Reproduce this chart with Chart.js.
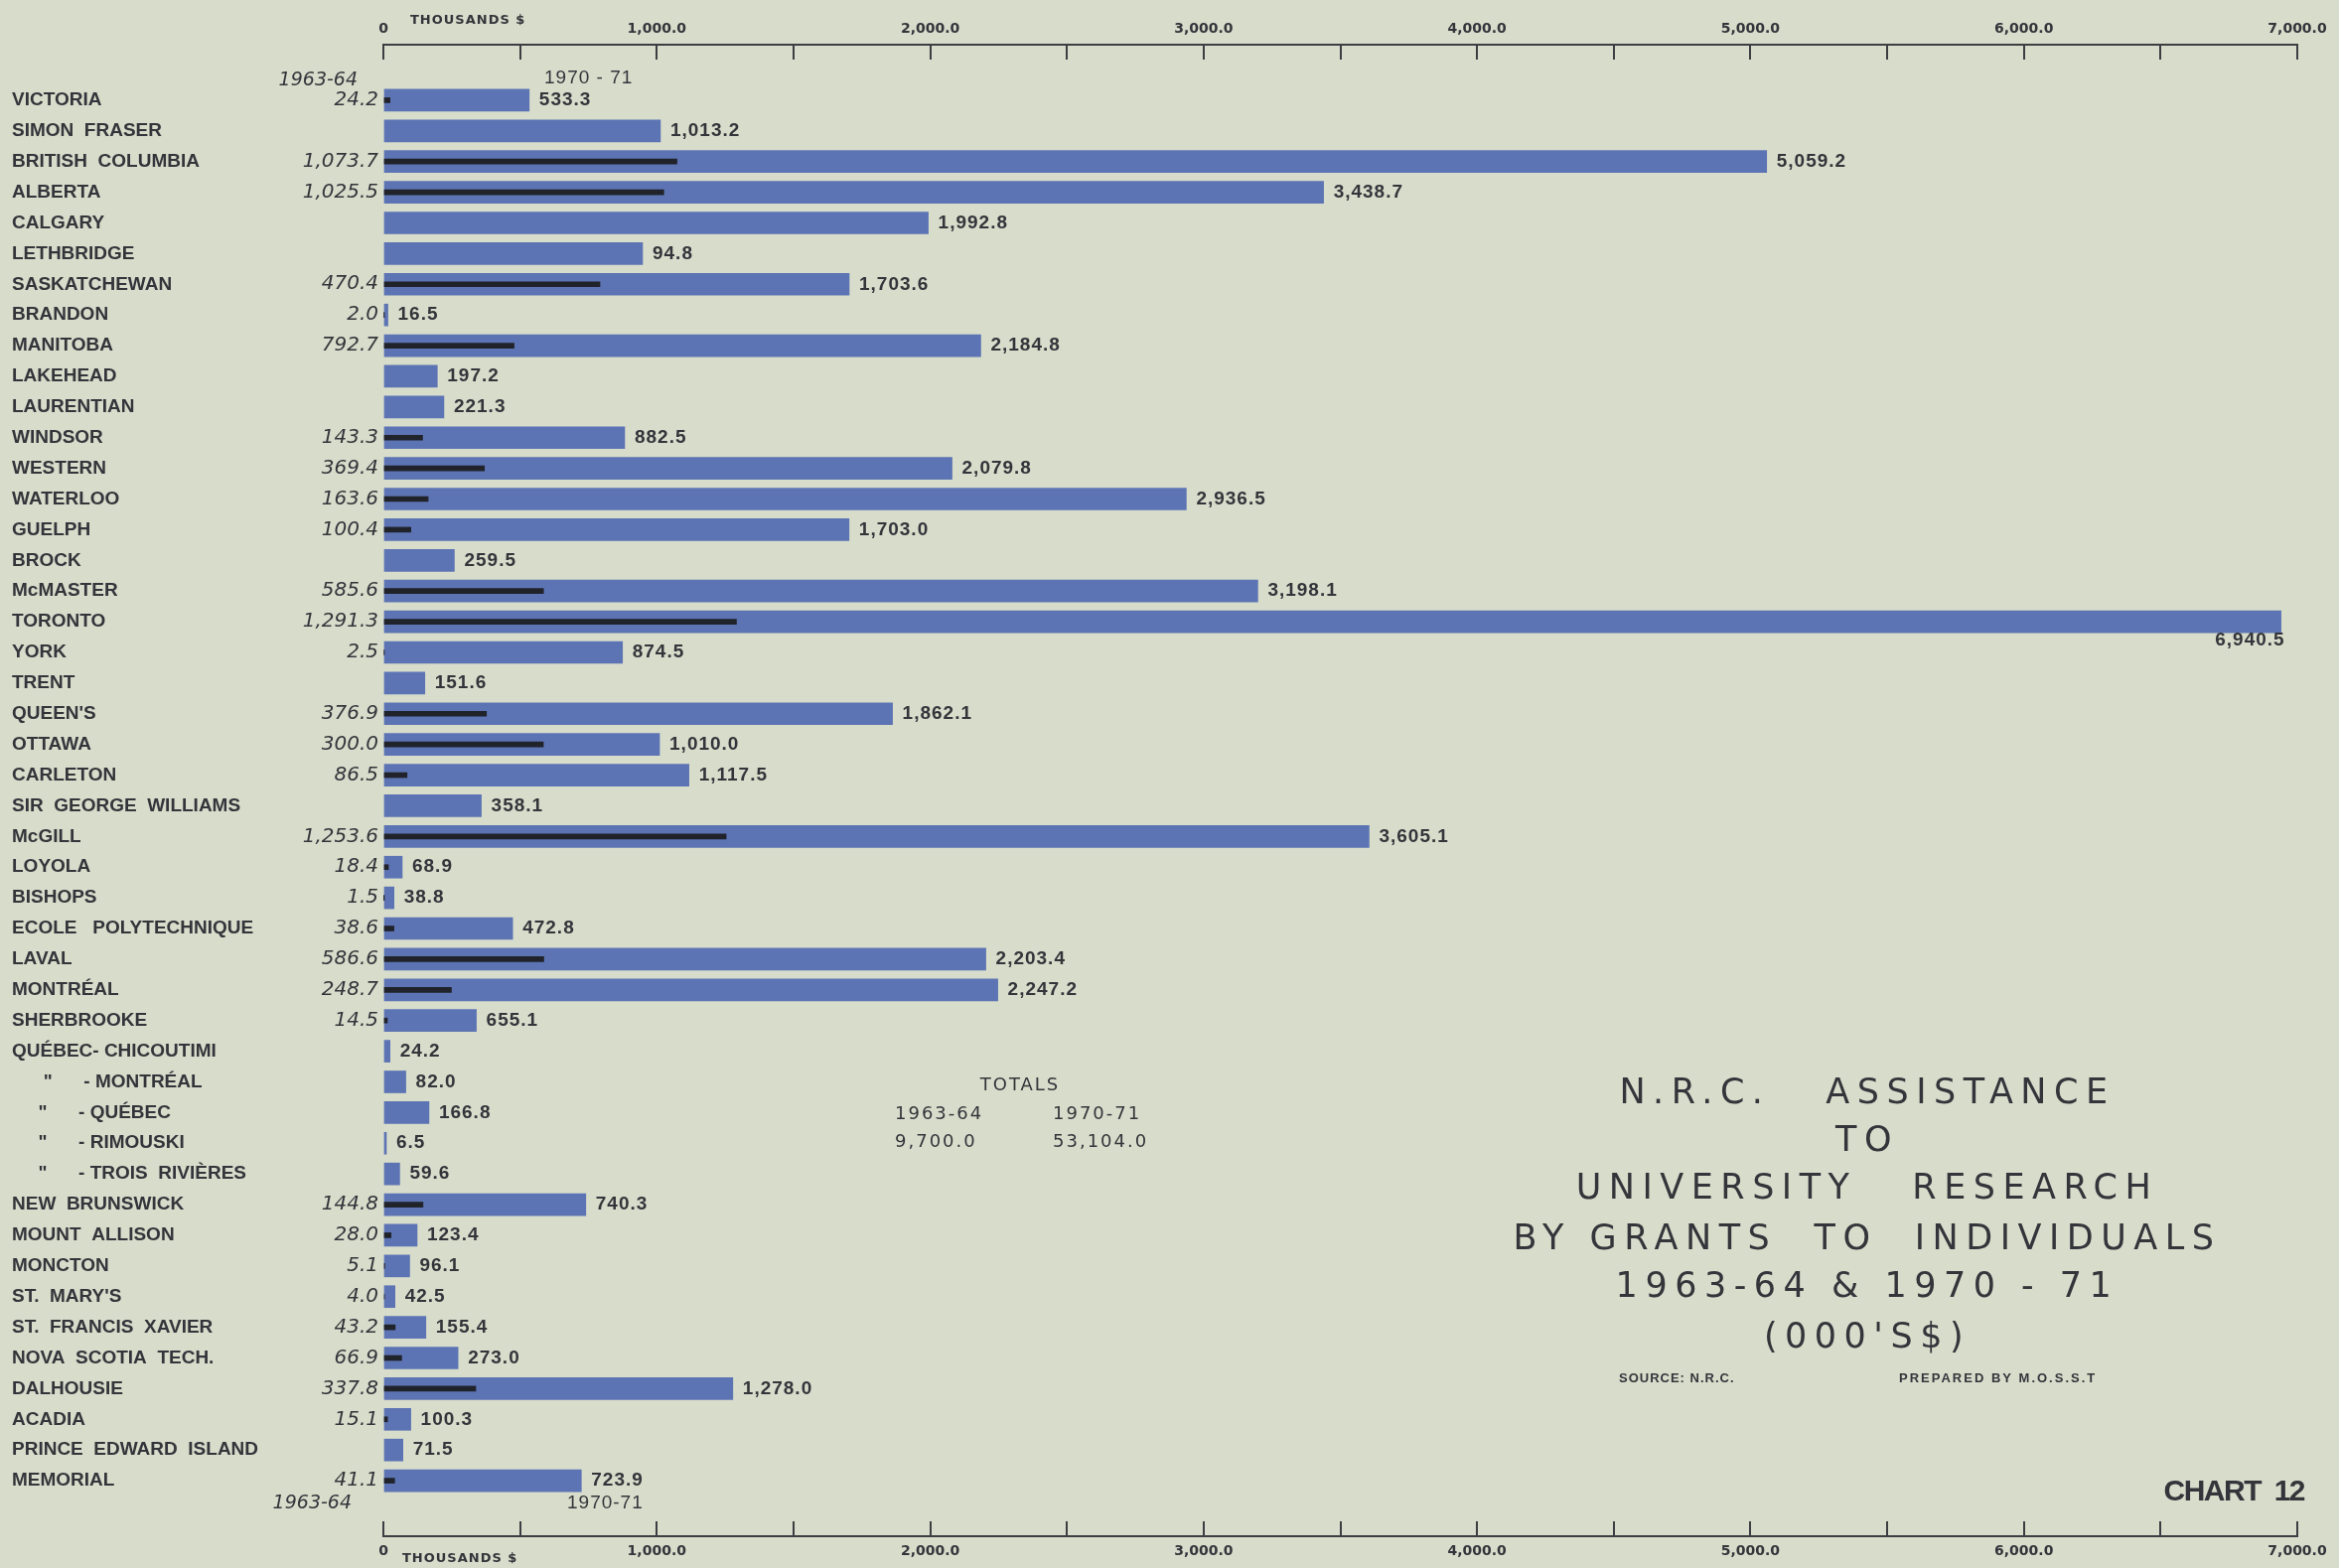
<!DOCTYPE html>
<html>
<head>
<meta charset="utf-8">
<title>N.R.C. Assistance to University Research</title>
<script src="https://cdn.jsdelivr.net/npm/chart.js@4.4.1/dist/chart.umd.min.js"></script>
<style>
  html, body { margin: 0; padding: 0; background: #d7dccb; }
  canvas { display: block; }
</style>
</head>
<body>
<canvas id="chart" width="2355" height="1579"></canvas>
<script>
// Universities, top to bottom
const universities = [
    'VICTORIA', 'SIMON  FRASER', 'BRITISH  COLUMBIA', 'ALBERTA', 'CALGARY', 'LETHBRIDGE',
    'SASKATCHEWAN', 'BRANDON', 'MANITOBA', 'LAKEHEAD', 'LAURENTIAN', 'WINDSOR', 'WESTERN',
    'WATERLOO', 'GUELPH', 'BROCK', 'McMASTER', 'TORONTO', 'YORK', 'TRENT', "QUEEN'S",
    'OTTAWA', 'CARLETON', 'SIR  GEORGE  WILLIAMS', 'McGILL', 'LOYOLA', 'BISHOPS',
    'ECOLE   POLYTECHNIQUE', 'LAVAL', 'MONTRÉAL', 'SHERBROOKE', 'QUÉBEC- CHICOUTIMI',
    '      "      - MONTRÉAL', '     "      - QUÉBEC', '     "      - RIMOUSKI',
    '     "      - TROIS  RIVIÈRES', 'NEW  BRUNSWICK', 'MOUNT  ALLISON', 'MONCTON',
    "ST.  MARY'S", 'ST.  FRANCIS  XAVIER', 'NOVA  SCOTIA  TECH.', 'DALHOUSIE', 'ACADIA',
    'PRINCE  EDWARD  ISLAND', 'MEMORIAL'
];

// 1963-64: length of the dark line as drawn, and the figure printed beside it
const bar6364 = [
    24.2, null, 1073.7, 1025.5, null, null, 792, 2.0, 478, null, null, 143.3, 369.4,
    163.6, 100.4, null, 585.6, 1291.3, 2.5, null, 376.9, 585, 86.5, null, 1253.6, 18.4, 1.5,
    38.6, 586.6, 248.7, 14.5, null, null, null, null, null, 144.8, 28.0, 5.1,
    4.0, 43.2, 66.9, 337.8, 15.1, null, 41.1
];
const label6364 = [
    '24.2', '', '1,073.7', '1,025.5', '', '', '470.4', '2.0', '792.7', '', '', '143.3', '369.4',
    '163.6', '100.4', '', '585.6', '1,291.3', '2.5', '', '376.9', '300.0', '86.5', '', '1,253.6', '18.4', '1.5',
    '38.6', '586.6', '248.7', '14.5', '', '', '', '', '', '144.8', '28.0', '5.1',
    '4.0', '43.2', '66.9', '337.8', '15.1', '', '41.1'
];

// 1970-71: length of the blue bar as drawn, and the figure printed at its end
const bar7071 = [
    533.3, 1013.2, 5059.2, 3438.7, 1992.8, 948, 1703.6, 16.5, 2184.8, 197.2, 221.3, 882.5, 2079.8,
    2936.5, 1703.0, 259.5, 3198.1, 6940.5, 874.5, 151.6, 1862.1, 1010.0, 1117.5, 358.1, 3605.1, 68.9, 38.8,
    472.8, 2203.4, 2247.2, 340, 24.2, 82.0, 166.8, 6.5, 59.6, 740.3, 123.4, 96.1,
    42.5, 155.4, 273.0, 1278.0, 100.3, 71.5, 723.9
];
const label7071 = [
    '533.3', '1,013.2', '5,059.2', '3,438.7', '1,992.8', '94.8', '1,703.6', '16.5', '2,184.8', '197.2', '221.3', '882.5', '2,079.8',
    '2,936.5', '1,703.0', '259.5', '3,198.1', '6,940.5', '874.5', '151.6', '1,862.1', '1,010.0', '1,117.5', '358.1', '3,605.1', '68.9', '38.8',
    '472.8', '2,203.4', '2,247.2', '655.1', '24.2', '82.0', '166.8', '6.5', '59.6', '740.3', '123.4', '96.1',
    '42.5', '155.4', '273.0', '1,278.0', '100.3', '71.5', '723.9'
];

const axisTickLabels = ['0', '1,000.0', '2,000.0', '3,000.0', '4,000.0', '5,000.0', '6,000.0', '7,000.0'];
const totalYears = ['1963-64', '1970-71'];
const totalValues = ['9,700.0', '53,104.0'];
const titleLines = ['N.R.C.   ASSISTANCE', 'TO', 'UNIVERSITY   RESEARCH', 'BY GRANTS  TO  INDIVIDUALS', '1963-64 & 1970 - 71', "(000'S$)"];

const ink = '#33353a';
const barBlue = '#5d74b4';
const lineDark = '#20232a';

function drawText(ctx, text, x, y, font, align, spacing) {
    ctx.save();
    ctx.font = font;
    ctx.fillStyle = ink;
    ctx.textAlign = align || 'left';
    ctx.textBaseline = 'middle';
    if (spacing) ctx.letterSpacing = spacing + 'px';
    ctx.fillText(text, x, y);
    ctx.restore();
}

// figures at the end of each 1970-71 bar
const valueLabels = {
    id: 'valueLabels',
    afterDatasetsDraw(chart) {
        const ctx = chart.ctx;
        const font = "bold 19px 'Liberation Sans'";
        const right = chart.chartArea.right;
        ctx.save();
        ctx.font = font;
        ctx.letterSpacing = '1px';
        chart.getDatasetMeta(1).data.forEach((bar, i) => {
            const text = label7071[i];
            const w = ctx.measureText(text).width;
            if (bar.x + 10 + w > right) {
                drawText(ctx, text, bar.x + 4, bar.y + 19, font, 'right', 1);
            } else {
                drawText(ctx, text, bar.x + 10, bar.y, font, 'left', 1);
            }
        });
        ctx.restore();
    }
};

// headings, totals, title block
const annotations = {
    id: 'annotations',
    afterDraw(chart) {
        const ctx = chart.ctx;
        const small = "bold 13px 'DejaVu Sans'";
        drawText(ctx, 'THOUSANDS $', 413, 21, small, 'left', 1);
        drawText(ctx, 'THOUSANDS $', 405, 1570, small, 'left', 1);

        const it = "oblique 19px 'DejaVu Sans'";
        const reg = "19px 'Liberation Sans'";
        drawText(ctx, '1963-64', 360, 81, it, 'right');
        drawText(ctx, '1970 - 71', 548, 79, reg, 'left', 1);
        drawText(ctx, '1963-64', 354, 1514, it, 'right');
        drawText(ctx, '1970-71', 571, 1514, reg, 'left', 1);

        const tot = "18px 'DejaVu Sans'";
        drawText(ctx, 'TOTALS', 1027, 1093, tot, 'center', 2);
        drawText(ctx, totalYears[0], 901, 1122, tot, 'left', 2);
        drawText(ctx, totalYears[1], 1060, 1122, tot, 'left', 2);
        drawText(ctx, totalValues[0], 901, 1150, tot, 'left', 2);
        drawText(ctx, totalValues[1], 1060, 1150, tot, 'left', 2);

        const titleY = [1102, 1150, 1198, 1249, 1297, 1348];
        titleLines.forEach((line, i) => {
            drawText(ctx, line, 1880, titleY[i], "35px 'DejaVu Sans'", 'center', 7.5);
        });

        drawText(ctx, 'SOURCE: N.R.C.', 1630, 1388, "bold 13px 'Liberation Sans'", 'left', 1);
        drawText(ctx, 'PREPARED BY M.O.S.S.T', 1912, 1388, "bold 13px 'Liberation Sans'", 'left', 2);
        drawText(ctx, 'CHART  12', 2320, 1503, "bold 30px 'Liberation Sans'", 'right', -1.5);
    }
};

const rowAxis = {
    type: 'linear',
    reverse: true,
    offset: false,
    min: -1.81,
    max: universities.length - 1 + 1.81,
    grid: { display: false, drawTicks: false },
    border: { display: false }
};

function xAxis(position) {
    return {
        type: 'linear',
        position: position,
        min: 0,
        max: 7000,
        afterFit: s => {
            s.height = position === 'top' ? 45 : 32;
            s.paddingLeft = 0;
            s.paddingRight = 0;
        },
        border: { display: true, color: '#3c3e42', width: 2 },
        grid: { display: true, drawOnChartArea: false, drawTicks: true, tickLength: -15, color: '#3c3e42', lineWidth: 2 },
        ticks: {
            stepSize: 500,
            autoSkip: false,
            maxRotation: 0,
            padding: 22,
            color: ink,
            font: { family: 'DejaVu Sans', size: 14, weight: 'bold' },
            callback: v => (v % 1000 === 0 ? axisTickLabels[v / 1000] : '')
        }
    };
}

new Chart(document.getElementById('chart'), {
    type: 'bar',
    data: {
        datasets: [
            {
                label: '1963-64',
                data: bar6364.map((v, i) => ({ x: v, y: i })),
                backgroundColor: lineDark,
                barThickness: 5,
                grouped: false,
                order: 0,
                xAxisID: 'x',
                yAxisID: 'y'
            },
            {
                label: '1970-71',
                data: bar7071.map((v, i) => ({ x: v, y: i })),
                backgroundColor: barBlue,
                barThickness: 22,
                minBarLength: 3,
                grouped: false,
                order: 1,
                xAxisID: 'x',
                yAxisID: 'y'
            }
        ]
    },
    options: {
        indexAxis: 'y',
        responsive: false,
        animation: false,
        layout: { padding: { left: 12, right: 42, top: 0, bottom: 0 } },
        plugins: { legend: { display: false }, tooltip: { enabled: false } },
        scales: {
            x: xAxis('top'),
            x2: xAxis('bottom'),
            y: Object.assign({}, rowAxis, {
                position: 'left',
                weight: 10,
                afterFit: s => { s.width = 279; },
                ticks: {
                    stepSize: 1,
                    autoSkip: false,
                    crossAlign: 'far',
                    padding: 0,
                    color: ink,
                    font: { family: 'Liberation Sans', size: 19, weight: 'bold' },
                    callback: v => (Number.isInteger(v) && universities[v] ? universities[v] : '')
                }
            }),
            yv: Object.assign({}, rowAxis, {
                position: 'left',
                weight: 5,
                afterFit: s => { s.width = 95; },
                ticks: {
                    stepSize: 1,
                    autoSkip: false,
                    crossAlign: 'near',
                    padding: 5,
                    color: ink,
                    font: { family: 'DejaVu Sans', size: 20, style: 'oblique' },
                    callback: v => (Number.isInteger(v) && label6364[v] ? label6364[v] : '')
                }
            })
        }
    },
    plugins: [valueLabels, annotations]
});
</script>
</body>
</html>
